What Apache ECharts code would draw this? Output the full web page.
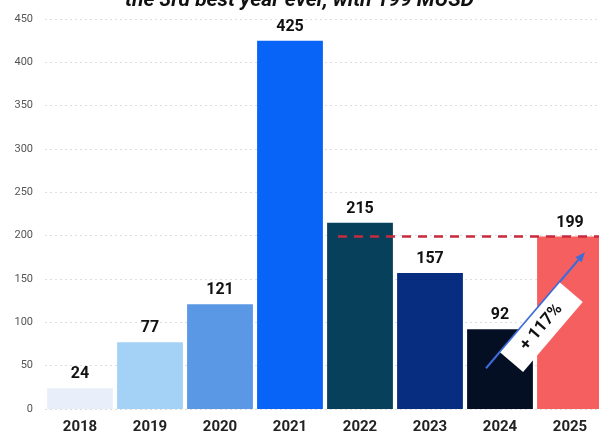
<!DOCTYPE html>
<html>
<head>
<meta charset="utf-8">
<script src="https://cdn.jsdelivr.net/npm/echarts@6/dist/echarts.min.js"></script>
<style>
  html, body { margin: 0; padding: 0; background: #ffffff; }
  #chart { width: 599px; height: 436px; }
</style>
</head>
<body>
<div id="chart"></div>
<script>
// Yearly totals (MUSD)
const years = ['2018', '2019', '2020', '2021', '2022', '2023', '2024', '2025'];
const totals = [24, 77, 121, 425, 215, 157, 92, 199];
const barColors = ['#e8eefa', '#a3d2f6', '#5a97e4', '#0864f6', '#07405a', '#072d80', '#050f24', '#f65f5f'];
const yTicks = [0, 50, 100, 150, 200, 250, 300, 350, 400, 450];

const titleText = 'the 3rd best year ever, with 199 MUSD';
const growthText = '+ 117%';
// reference level for the dashed line (2025 value)
const refLevel = 199;
// growth arrow, from 2024 to 2025 (category, value)
const arrowFrom = ['2024', 47];
const arrowTo = ['2025', 181];

const chart = echarts.init(document.getElementById('chart'), null, { renderer: 'canvas' });

const option = {
  animation: false,
  backgroundColor: '#ffffff',
  grid: {
    left: 45, width: 560, top: 19, bottom: 27,
    containLabel: false,
    outerBoundsMode: 'none'
  },
  xAxis: {
    type: 'category',
    data: years,
    axisLine: { show: false },
    axisTick: { show: false },
    axisLabel: {
      margin: 11,
      fontFamily: 'Roboto',
      fontWeight: 'bold',
      fontSize: 15,
      color: '#222222'
    }
  },
  yAxis: {
    type: 'value',
    min: yTicks[0],
    max: yTicks[yTicks.length - 1],
    interval: yTicks[1] - yTicks[0],
    axisLine: { show: false },
    axisTick: { show: false },
    axisLabel: {
      margin: 12,
      fontFamily: 'Roboto',
      fontSize: 11,
      color: '#555555'
    },
    splitLine: {
      lineStyle: { color: '#dddddd', type: [2, 3], width: 1 }
    }
  },
  series: [{
    type: 'bar',
    data: totals.map((v, i) => ({ value: v, itemStyle: { color: barColors[i] } })),
    barCategoryGap: '6%',
    label: {
      show: true,
      position: 'top',
      distance: 6,
      fontFamily: 'Roboto',
      fontWeight: 'bold',
      fontSize: 16,
      color: '#111111'
    }
  }]
};

chart.setOption(option);

// Annotations placed through the axes' own scales
const p = (cat, val, dx) => {
  const pt = chart.convertToPixel({ gridIndex: 0 }, [cat, val]);
  return [pt[0] + (dx || 0), pt[1]];
};

const lineStart = p('2022', refLevel, -22);
const lineEnd = [599, lineStart[1]];
const a0 = p(arrowFrom[0], arrowFrom[1], -14);
const a1 = p(arrowTo[0], arrowTo[1], 15);
const ang = Math.atan2(a1[1] - a0[1], a1[0] - a0[0]);
const headLen = 10;
const headW = 4;
const hx = a1[0] - headLen * Math.cos(ang);
const hy = a1[1] - headLen * Math.sin(ang);
const boxCenter = [(a0[0] + a1[0]) / 2 + 6, (a0[1] + a1[1]) / 2 + 17];

chart.setOption({
  graphic: [
    {
      type: 'text',
      left: 'center',
      top: -10,
      style: {
        text: titleText,
        fontFamily: 'Roboto',
        fontWeight: 'bold',
        fontStyle: 'italic',
        fontSize: 21,
        fill: '#111111'
      },
      z: 10
    },
    {
      type: 'line',
      shape: { x1: lineStart[0], y1: lineStart[1], x2: lineEnd[0], y2: lineEnd[1] },
      style: { stroke: '#c92a3e', lineWidth: 2.5, lineDash: [9, 7] },
      z: 10
    },
    {
      type: 'line',
      shape: { x1: a0[0], y1: a0[1], x2: hx, y2: hy },
      style: { stroke: '#3b6cd8', lineWidth: 2 },
      z: 11
    },
    {
      type: 'polygon',
      shape: {
        points: [
          [a1[0], a1[1]],
          [hx + headW * Math.sin(ang), hy - headW * Math.cos(ang)],
          [hx - headW * Math.sin(ang), hy + headW * Math.cos(ang)]
        ]
      },
      style: { fill: '#3b6cd8' },
      z: 11
    },
    {
      type: 'group',
      x: boxCenter[0],
      y: boxCenter[1],
      rotation: -ang,
      z: 12,
      children: [
        {
          type: 'rect',
          shape: { x: -46, y: -15, width: 92, height: 30 },
          style: { fill: '#ffffff' },
          z: 12
        },
        {
          type: 'text',
          x: 0,
          y: 0,
          style: {
            text: growthText,
            align: 'center',
            verticalAlign: 'middle',
            fontFamily: 'Roboto',
            fontWeight: 'bold',
            fontSize: 17,
            fill: '#111111'
          },
          z: 13
        }
      ]
    }
  ]
});
</script>
</body>
</html>
